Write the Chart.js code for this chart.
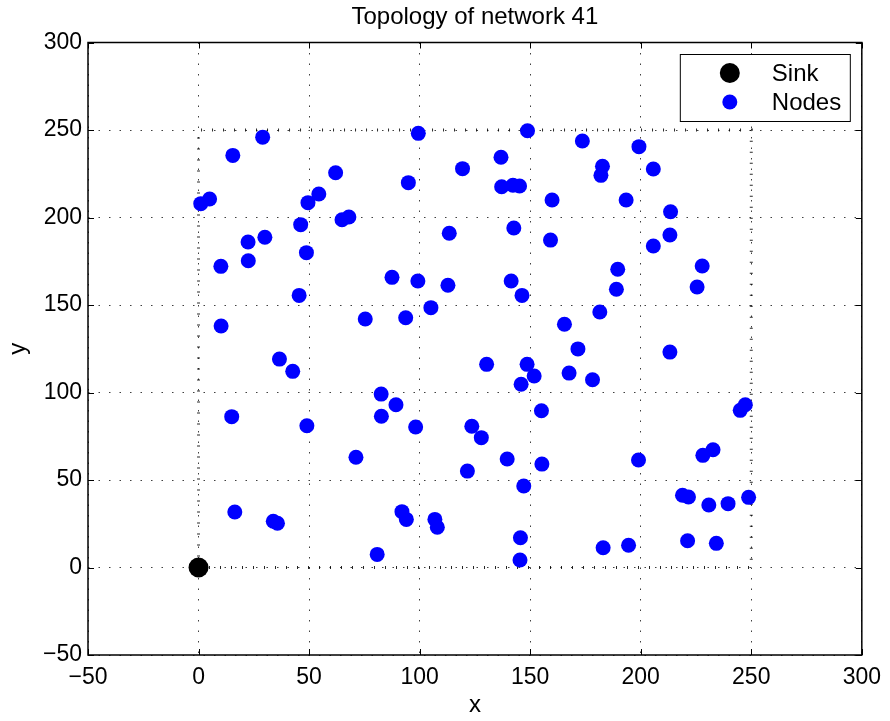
<!DOCTYPE html>
<html>
<head>
<meta charset="utf-8">
<title>Topology of network 41</title>
<script src="https://cdn.jsdelivr.net/npm/chart.js@4.4.1/dist/chart.umd.min.js"></script>
<style>
  html, body { margin: 0; padding: 0; background: #fff; }
  #wrap { position: relative; width: 890px; height: 721px; }
</style>
</head>
<body>
<div id="wrap"><canvas id="topology" width="890" height="721"></canvas></div>
<script>
// sink position
const sinkX = [0];
const sinkY = [0];

// sensor nodes
const nodeX = [
  29.0, 15.5, 62.0, 1.0, 5.0, 49.5, 54.4, 46.2, 64.9, 68.0, 22.4, 30.0, 48.8,
  10.1, 22.5, 45.5, 10.2, 75.4, 36.6, 42.6, 15.0, 49.0,
  71.2, 16.4, 33.8, 35.7,
  99.4, 148.8, 173.6, 199.2, 136.8, 119.4, 182.7, 182.0, 205.7, 94.9, 137.1, 142.2, 145.2,
  159.9, 193.4, 113.4, 142.6, 159.2, 205.7,
  213.5, 213.2,
  189.6, 189.0, 87.5, 99.2, 112.8, 141.4, 146.3, 105.1, 93.7, 165.5, 181.5, 171.6, 130.3,
  148.6, 151.8, 145.9, 167.6, 178.2, 82.6, 89.3, 82.7, 98.2, 155.1, 123.6, 127.9,
  227.8, 225.5, 213.2, 245.0, 247.3,
  232.7, 228.1, 218.9, 221.6, 230.8, 239.5, 248.8, 221.2, 234.2,
  139.6, 121.6, 155.3, 199.0, 147.1, 92.0, 94.0, 106.9, 108.0, 145.6, 145.4, 183.0, 194.5, 80.8
];
const nodeY = [
  245.9, 235.5, 225.6, 207.9, 210.6, 208.5, 213.4, 195.9, 198.7, 200.3, 186.0, 188.7, 179.9,
  172.1, 175.3, 155.5, 138.0, 142.0, 119.1, 112.1, 86.2, 81.0,
  63.0, 31.7, 26.4, 25.3,
  248.1, 249.6, 243.7, 240.5, 234.4, 227.9, 229.3, 224.1, 227.7, 219.9, 217.6, 218.4, 218.0,
  210.0, 210.0, 191.0, 194.0, 187.1, 183.7,
  203.3, 190.0,
  170.4, 159.0, 165.8, 163.7, 161.3, 163.7, 155.5, 148.5, 142.7, 139.0, 146.0, 124.9, 116.1,
  116.1, 109.4, 104.7, 111.1, 107.3, 99.1, 93.0, 86.4, 80.3, 89.6, 80.7, 74.2,
  172.3, 160.3, 123.1, 89.8, 93.0,
  67.3, 64.1, 41.3, 40.3, 35.7, 36.5, 40.1, 15.3, 13.8,
  62.0, 55.1, 59.1, 61.4, 46.6, 31.9, 27.5, 27.5, 23.0, 17.0, 4.3, 11.3, 12.7, 7.5
];

// deployment field outline
const boundaryX = [0, 0, 250, 250, 0];
const boundaryY = [0, 250, 250, 0, 0];

const xTicks = [-50, 0, 50, 100, 150, 200, 250, 300];
const yTicks = [-50, 0, 50, 100, 150, 200, 250, 300];

const fontFamily = "'Liberation Sans', Arial, Helvetica, sans-serif";
const tickFont = { family: fontFamily, size: 23 };
const labelFont = { family: fontFamily, size: 24 };

const toPoints = (xs, ys) => xs.map((x, i) => ({ x: x, y: ys[i] }));
const minusSign = (v) => String(v).replace("-", "\u2212");

// MATLAB style box: inward ticks on all sides and a legend inside the axes
const matlabFrame = {
  id: "matlabFrame",
  afterDraw(chart) {
    const { ctx, chartArea: a, scales } = chart;
    ctx.save();
    ctx.strokeStyle = "#000";
    ctx.lineWidth = 1;
    ctx.beginPath();
    xTicks.forEach((v) => {
      const px = Math.round(scales.x.getPixelForValue(v)) + 0.5;
      ctx.moveTo(px, a.bottom);
      ctx.lineTo(px, a.bottom - 6);
      ctx.moveTo(px, a.top);
      ctx.lineTo(px, a.top + 6);
    });
    yTicks.forEach((v) => {
      const py = Math.round(scales.y.getPixelForValue(v)) + 0.5;
      ctx.moveTo(a.left, py);
      ctx.lineTo(a.left + 6, py);
      ctx.moveTo(a.right, py);
      ctx.lineTo(a.right - 6, py);
    });
    ctx.stroke();

    ctx.lineWidth = 1.5;
    ctx.strokeRect(a.left, a.top, a.right - a.left, a.bottom - a.top);

    // legend
    const boxW = 170, boxH = 67;
    const bx = a.right - 12 - boxW;
    const by = a.top + 11.5;
    ctx.fillStyle = "#fff";
    ctx.fillRect(bx, by, boxW, boxH);
    ctx.lineWidth = 1;
    ctx.strokeRect(bx + 0.5, by + 0.5, boxW, boxH);

    ctx.font = labelFont.size + "px " + fontFamily;
    ctx.textBaseline = "middle";
    chart.data.datasets.filter((d) => d.inLegend).forEach((d, i) => {
      const cy = by + 19 + i * 29;
      ctx.beginPath();
      ctx.arc(bx + 50, cy, d.pointRadius, 0, Math.PI * 2);
      ctx.fillStyle = d.backgroundColor;
      ctx.fill();
      ctx.fillStyle = "#000";
      ctx.fillText(d.label, bx + 92, cy + 1);
    });
    ctx.restore();
  }
};

new Chart(document.getElementById("topology"), {
  type: "scatter",
  data: {
    datasets: [
      {
        label: "Sink",
        inLegend: true,
        data: toPoints(sinkX, sinkY),
        backgroundColor: "#000000",
        borderColor: "#000000",
        pointRadius: 10,
        pointHoverRadius: 10,
        borderWidth: 0,
        order: 1,
      },
      {
        label: "Nodes",
        inLegend: true,
        data: toPoints(nodeX, nodeY),
        backgroundColor: "#0000ff",
        borderColor: "#0000ff",
        pointRadius: 7.5,
        pointHoverRadius: 7.5,
        borderWidth: 0,
        order: 2,
      },
      {
        label: "Field",
        type: "line",
        data: toPoints(boundaryX, boundaryY),
        borderColor: "rgba(0,0,0,0.85)",
        borderWidth: 3,
        borderDash: [1, 10],
        borderCapStyle: "butt",
        pointRadius: 0,
        fill: false,
        tension: 0,
        order: 3,
      },
    ],
  },
  options: {
    responsive: false,
    animation: false,
    devicePixelRatio: 1,
    layout: { autoPadding: false, padding: { left: 0, right: 25, top: 0, bottom: 0 } },
    plugins: {
      legend: { display: false },
      tooltip: { enabled: false },
    },
    scales: {
      x: {
        type: "linear",
        min: -50,
        max: 300,
        afterBuildTicks: (axis) => { axis.ticks = xTicks.map((v) => ({ value: v })); },
        afterFit: (axis) => { axis.height = 66; },
        grid: { color: "rgba(0,0,0,0.75)", lineWidth: 1, drawTicks: false },
        border: { display: false, dash: [1.5, 9] },
        ticks: { padding: 9, color: "#000", font: tickFont, callback: minusSign },
        title: { display: true, text: "x", color: "#000", font: labelFont, padding: { top: 0, bottom: 1 } },
      },
      // top axis only carries the title, so it is centred over the plot box
      xTop: {
        type: "linear",
        position: "top",
        min: -50,
        max: 300,
        afterBuildTicks: (axis) => { axis.ticks = []; },
        afterFit: (axis) => { axis.height = 42.5; },
        grid: { display: false, drawTicks: false },
        border: { display: false },
        ticks: { display: false },
        title: { display: true, text: "Topology of network 41", color: "#000", font: labelFont, padding: { top: 3, bottom: 0 } },
      },
      y: {
        type: "linear",
        min: -50,
        max: 300,
        afterBuildTicks: (axis) => { axis.ticks = yTicks.map((v) => ({ value: v })); },
        afterFit: (axis) => { axis.width = 88; },
        grid: { color: "rgba(0,0,0,0.75)", lineWidth: 1, drawTicks: false },
        border: { display: false, dash: [1.5, 9] },
        ticks: { padding: 6, color: "#000", font: tickFont, callback: minusSign },
        title: { display: true, text: "y", color: "#000", font: labelFont, padding: { top: 4, bottom: 0 } },
      },
    },
  },
  plugins: [matlabFrame],
});
</script>
</body>
</html>
